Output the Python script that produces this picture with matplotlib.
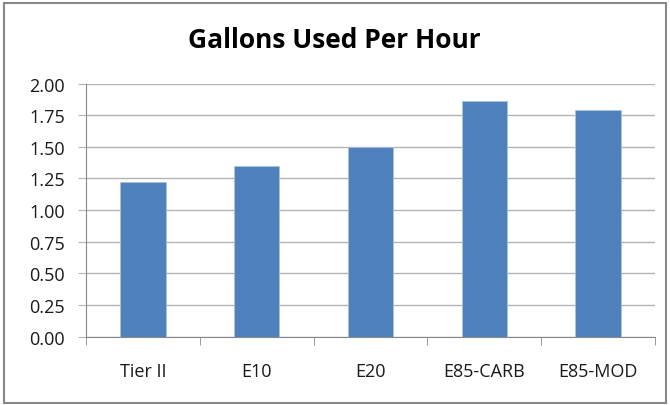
import matplotlib
matplotlib.use("Agg")
import matplotlib.pyplot as plt
from matplotlib.patches import Rectangle
import numpy as np

categories = ["Tier II", "E10", "E20", "E85-CARB", "E85-MOD"]
values = [1.22, 1.35, 1.50, 1.86, 1.79]
yticks = [0.00, 0.25, 0.50, 0.75, 1.00, 1.25, 1.50, 1.75, 2.00]
title = "Gallons Used Per Hour"

plt.rcParams['font.family'] = ['Open Sans', 'DejaVu Sans']

fig = plt.figure(figsize=(6.70, 4.06), dpi=100)
ax = fig.add_axes([86/670, 1-337.7/406, (655-86)/670, (337.7-84.5)/406])

x = np.arange(len(categories))
ax.bar(x, values, width=0.40, color="#4f81bd", edgecolor="#a8c2e0", linewidth=0.6, zorder=3)

ax.set_xlim(-0.5, len(categories)-0.5)
ax.set_ylim(0, 2.0)
ax.set_yticks(yticks)
ax.set_yticklabels([f"{v:.2f}" for v in yticks], fontsize=13, color="#1a1a1a")
ax.yaxis.grid(True, color="#b3b3b3", linewidth=1.0, zorder=0)
ax.set_xticks(x)
ax.set_xticklabels(categories, fontsize=13, color="#1a1a1a")
ax.set_xticks(np.arange(-0.5, len(categories)), minor=True)
ax.tick_params(axis='x', which='major', length=0, pad=18)
ax.tick_params(axis='x', which='minor', length=6, color="#888888", direction='out')
ax.tick_params(axis='y', length=6, color="#b3b3b3", pad=9)
for s in ["top", "right"]:
    ax.spines[s].set_visible(False)
ax.spines["left"].set_color("#888888")
ax.spines["bottom"].set_color("#888888")

fig.text(334/670, 1-41/406, title, fontsize=19, fontweight='bold', ha='center', va='center')

fig.patches.append(Rectangle((4/670, 2/406), 662/670, 400/406, transform=fig.transFigure,
                             fill=False, edgecolor="#888888", linewidth=1.5))

fig.savefig("out.png", dpi=100)
